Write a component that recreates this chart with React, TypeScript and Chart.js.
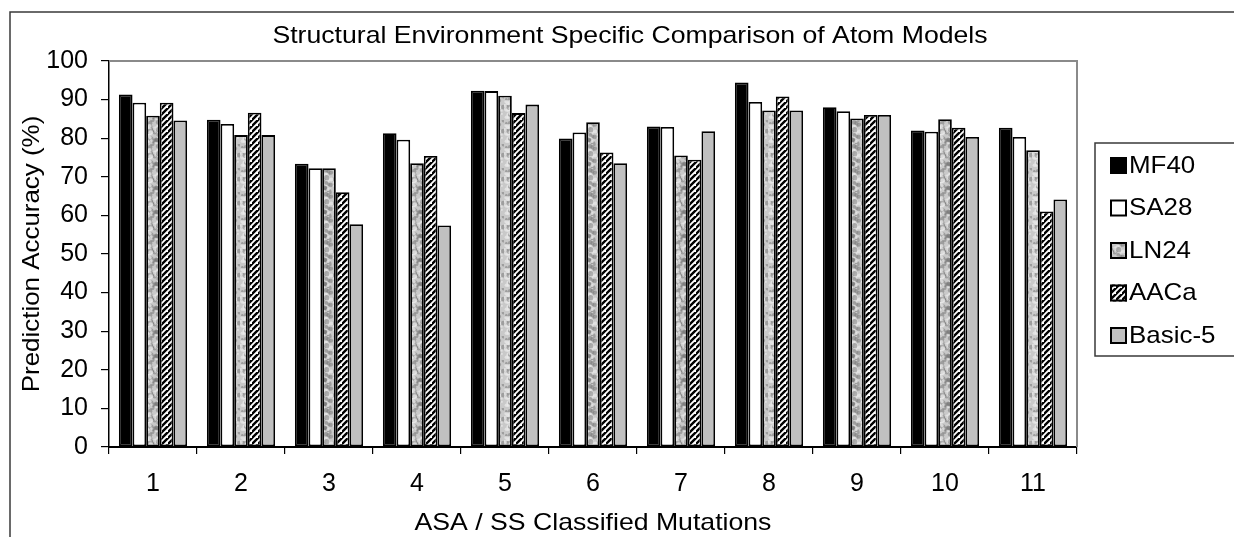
import React, { useEffect, useRef } from "react";
import { Chart, registerables } from "chart.js";

Chart.register(...registerables);

const categories = ["1", "2", "3", "4", "5", "6", "7", "8", "9", "10", "11"];
const mf40 = [91.3, 84.8, 73.4, 81.3, 92.3, 79.9, 83.0, 94.4, 88.0, 82.0, 82.7];
const sa28 = [89.2, 83.7, 72.2, 79.6, 92.2, 81.5, 82.9, 89.4, 87.0, 81.7, 80.3];
const ln24 = [85.8, 80.8, 72.2, 73.5, 91.0, 84.1, 75.5, 87.2, 85.1, 84.9, 76.9];
const aaca = [89.2, 86.6, 66.0, 75.4, 86.5, 76.3, 74.4, 90.8, 86.0, 82.7, 61.0];
const basic5 = [84.6, 80.8, 57.7, 57.4, 88.7, 73.5, 81.8, 87.2, 86.0, 80.3, 64.1];
const seriesNames = ["MF40", "SA28", "LN24", "AACa", "Basic-5"];
const yTicks = [0, 10, 20, 30, 40, 50, 60, 70, 80, 90, 100];

const chartTitle = "Structural Environment Specific Comparison of Atom Models";
const xTitle = "ASA / SS Classified Mutations";
const yTitle = "Prediction Accuracy (%)";

const FONT = '"Liberation Sans", Arial, Helvetica, sans-serif';

function makeSpeckle(): CanvasPattern | string {
  const c = document.createElement("canvas");
  c.width = 24;
  c.height = 24;
  const g = c.getContext("2d");
  if (!g) return "#c8c8c8";
  g.fillStyle = "#c9c9c9";
  g.fillRect(0, 0, 24, 24);
  // deterministic decorative texture (seeded LCG)
  let s = 12345;
  const rnd = () => {
    s = (s * 1103515245 + 12345) & 0x7fffffff;
    return s / 0x7fffffff;
  };
  for (let i = 0; i < 60; i++) {
    const x = rnd() * 24;
    const y = rnd() * 24;
    const r = 1 + rnd() * 1.8;
    const dark = rnd() < 0.5;
    g.fillStyle = dark ? "rgba(115,115,115,0.5)" : "rgba(235,235,235,0.7)";
    g.beginPath();
    g.arc(x, y, r, 0, Math.PI * 2);
    g.fill();
  }
  return g.createPattern(c, "repeat") || "#c8c8c8";
}

function makeHatch(): CanvasPattern | string {
  const n = 6;
  const c = document.createElement("canvas");
  c.width = n;
  c.height = n;
  const g = c.getContext("2d");
  if (!g) return "#888";
  g.fillStyle = "#ffffff";
  g.fillRect(0, 0, n, n);
  g.strokeStyle = "#000000";
  g.lineWidth = 2.4;
  g.beginPath();
  g.moveTo(-1, n + 1);
  g.lineTo(n + 1, -1);
  g.moveTo(-1 - n, n + 1);
  g.lineTo(1, -1);
  g.moveTo(n - 1, 2 * n + 1);
  g.lineTo(2 * n + 1, n - 1);
  g.stroke();
  return g.createPattern(c, "repeat") || "#888";
}

function stretchedText(ctx: CanvasRenderingContext2D, text: string, x: number, y: number, sx: number) {
  ctx.save();
  ctx.translate(x, y);
  ctx.scale(sx, 1);
  ctx.fillText(text, 0, 0);
  ctx.restore();
}

export default function App() {
  const ref = useRef<HTMLCanvasElement | null>(null);

  useEffect(() => {
    const canvas = ref.current;
    if (!canvas) return;
    const speckle = makeSpeckle();
    const hatch = makeHatch();
    const fills: any[] = ["#000000", "#ffffff", speckle, hatch, "#c0c0c0"];
    const values = [mf40, sa28, ln24, aaca, basic5];

    const decor = {
      id: "decor",
      afterDraw(chart: any) {
        const ctx = chart.ctx as CanvasRenderingContext2D;
        const a = chart.chartArea;
        ctx.save();
        // plot area top / right grey border
        ctx.strokeStyle = "#8a8a8a";
        ctx.lineWidth = 2;
        ctx.beginPath();
        ctx.moveTo(a.left, a.top);
        ctx.lineTo(a.right, a.top);
        ctx.lineTo(a.right, a.bottom);
        ctx.stroke();
        // outer frame
        ctx.strokeStyle = "#3a3a3a";
        ctx.lineWidth = 1.5;
        ctx.beginPath();
        ctx.moveTo(10, 540);
        ctx.lineTo(10, 12);
        ctx.lineTo(1240, 12);
        ctx.stroke();
        // titles
        ctx.fillStyle = "#000";
        ctx.font = "24px " + FONT;
        ctx.textAlign = "center";
        ctx.textBaseline = "alphabetic";
        stretchedText(ctx, chartTitle, 630, 43, 1.11);
        stretchedText(ctx, xTitle, (a.left + a.right) / 2, 530, 1.11);
        ctx.save();
        ctx.translate(38.5, (a.top + a.bottom) / 2);
        ctx.rotate(-Math.PI / 2);
        ctx.scale(1.08, 1);
        ctx.fillText(yTitle, 0, 0);
        ctx.restore();
        // legend
        ctx.strokeStyle = "#3a3a3a";
        ctx.lineWidth = 1.5;
        ctx.fillStyle = "#fff";
        ctx.beginPath();
        ctx.rect(1095, 143, 200, 213);
        ctx.fill();
        ctx.stroke();
        ctx.textAlign = "left";
        ctx.textBaseline = "middle";
        ctx.font = "24px " + FONT;
        for (let i = 0; i < seriesNames.length; i++) {
          const cy = 165 + i * 42.5;
          ctx.fillStyle = fills[i];
          ctx.fillRect(1110, cy - 8, 17, 17);
          ctx.strokeStyle = "#000";
          ctx.lineWidth = 2;
          ctx.strokeRect(1111, cy - 7, 15, 15);
          ctx.fillStyle = "#000";
          stretchedText(ctx, seriesNames[i], 1129, cy + 1, 1.08);
        }
        ctx.restore();
      },
    };

    const chart = new Chart(canvas, {
      type: "bar",
      data: {
        labels: categories,
        datasets: seriesNames.map((name, i) => ({
          label: name,
          data: values[i],
          backgroundColor: fills[i],
          borderColor: "#000000",
          borderWidth: 1.8,
          borderSkipped: false,
          barPercentage: 1.0,
          categoryPercentage: 0.775,
        })),
      },
      options: {
        responsive: false,
        animation: false,
        devicePixelRatio: 1,
        layout: { padding: { top: 61, right: 157, bottom: 0, left: 0 } },
        plugins: {
          legend: { display: false },
          title: { display: false },
          tooltip: { enabled: false },
        },
        scales: {
          x: {
            afterFit(scale: any) {
              scale.height = 90;
            },
            grid: {
              offset: true,
              drawOnChartArea: false,
              drawTicks: true,
              tickLength: 7,
              color: "#000",
              lineWidth: 1.2,
            },
            border: { display: true, color: "#000", width: 2 },
            ticks: {
              color: "#000",
              padding: 15,
              font: { family: FONT, size: 25 },
              maxRotation: 0,
            },
          },
          y: {
            min: 0,
            max: 100,
            afterFit(scale: any) {
              scale.width = 109;
            },
            afterBuildTicks(scale: any) {
              scale.ticks = yTicks.map((v) => ({ value: v }));
            },
            grid: {
              drawOnChartArea: false,
              drawTicks: true,
              tickLength: 8,
              color: "#000",
              lineWidth: 1.2,
            },
            border: { display: true, color: "#000", width: 1.5 },
            ticks: {
              color: "#000",
              padding: 13,
              font: { family: FONT, size: 25 },
            },
          },
        },
      },
      plugins: [decor],
    });
    return () => chart.destroy();
  }, []);

  return (
    <div style={{ position: "absolute", left: 0, top: 0, width: 1234, height: 537, background: "#fff" }}>
      <canvas ref={ref} width={1234} height={537} style={{ display: "block", width: 1234, height: 537 }} />
    </div>
  );
}
